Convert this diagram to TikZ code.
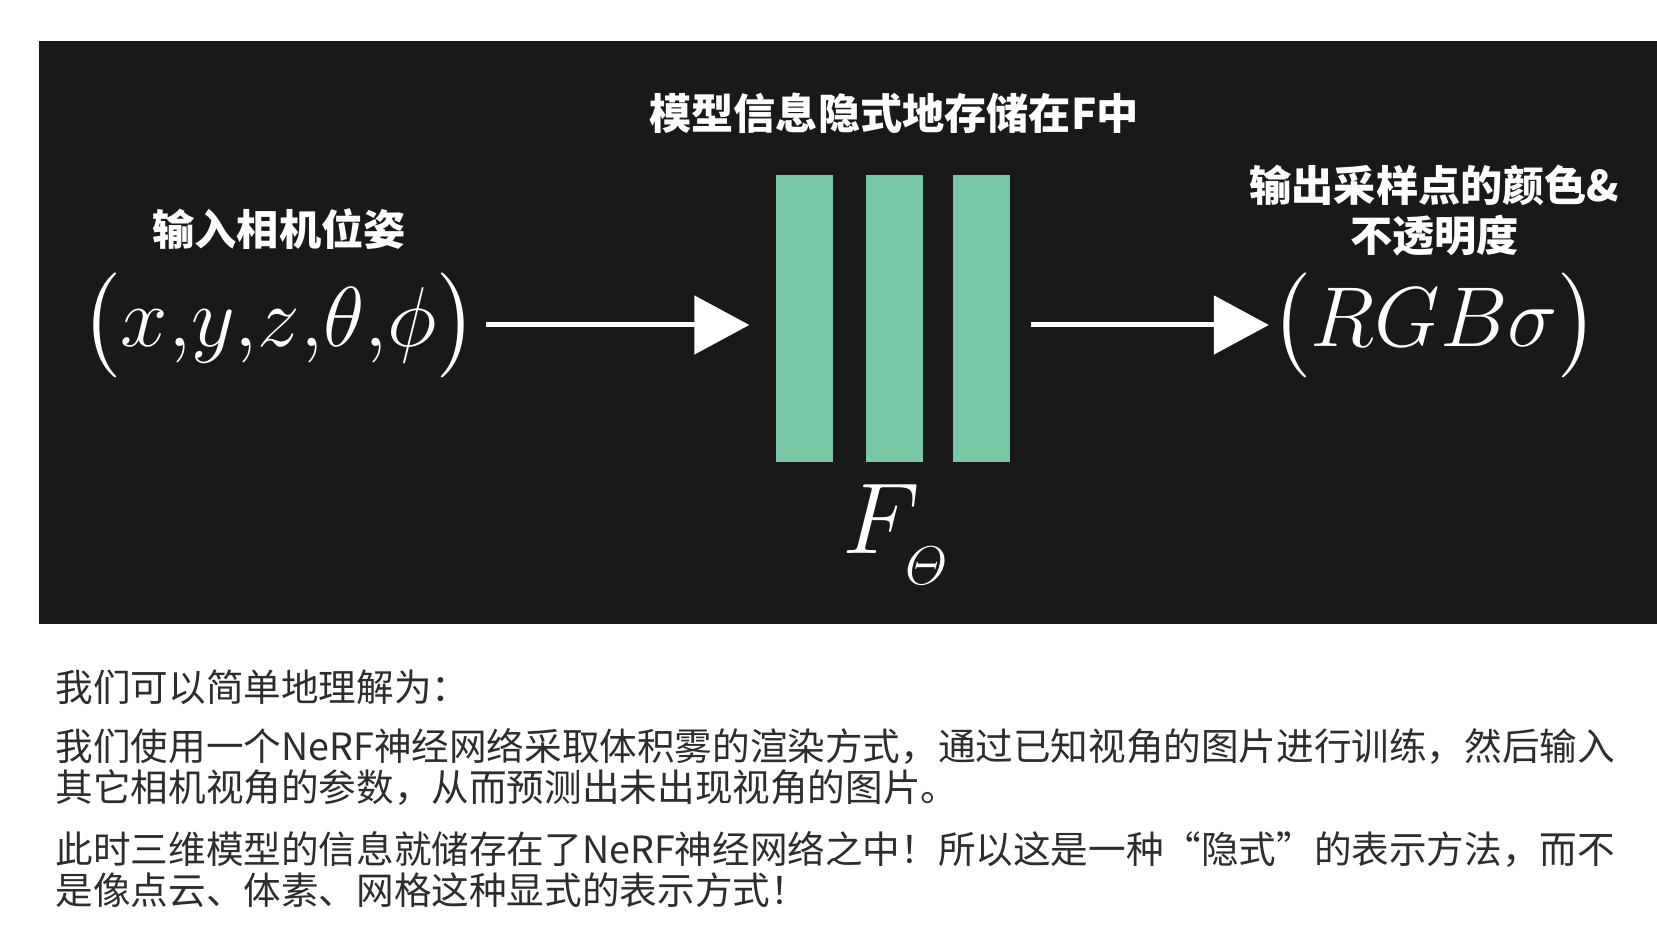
\RequirePackage{fix-cm}
\documentclass[tikz,border=0pt]{standalone}
\usepackage{fontspec}
\usepackage{amsmath}
\usetikzlibrary{arrows.meta, positioning}
\newfontfamily\cjk{Noto Sans CJK SC}
\definecolor{PanelBlack}{RGB}{25, 25, 25}
\definecolor{LayerGreen}{RGB}{120, 200, 168}
\definecolor{NoteGray}{RGB}{45, 45, 45}

\begin{document}
\begin{tikzpicture}[
    layer/.style={fill=LayerGreen, minimum width=0.57cm, minimum height=2.87cm, inner sep=0pt},
    caption/.style={text=white, font=\cjk\bfseries\fontsize{12}{14.2}\selectfont, align=center, inner sep=0pt},
    mathlabel/.style={text=white, font=\fontsize{24.2}{29}\selectfont, inner sep=0pt},
    arr/.style={draw=white, line width=0.05cm, -{Triangle[length=0.55cm, width=0.58cm]}},
    note/.style={text=NoteGray, font=\cjk\fontsize{10.7}{11.4}\selectfont, align=left, anchor=west, inner sep=0pt}
  ]
    \useasboundingbox (0,0) rectangle (16.57,9.27);

    % Panel (fondo)
    \fill[PanelBlack] (0.39,3.03) rectangle (16.57,8.86);

    % Red F (centro)
    \node[layer] (b1) at (8.045, 6.085) {};
    \node[layer] (b2) at (8.94, 6.085) {};
    \node[layer] (b3) at (9.81, 6.085) {};
    \node[caption, above=0.40cm of b2] (title) {模型信息隐式地存储在F中};
    \node[text=white, font=\fontsize{28.7}{34}\selectfont, inner sep=0pt, below=0.21cm of b2, xshift=0.02cm] (net)
      {$F_{\lower0.16em\hbox{\fontsize{15.5}{16}\selectfont$\varTheta$}}$};

    % Entrada (izq)
    \node[mathlabel] (pose) at (2.79, 6.02) {$\bigl(x{,}y{,}z{,}\theta{,}\phi\bigr)$};
    \node[caption, above=0.22cm of pose] (poselabel) {输入相机位姿};

    % Salida (der)
    \node[mathlabel] (rgb) at (14.345, 6.02) {$\bigl(RGB\sigma\bigr)$};
    \node[caption, above=0.15cm of rgb] (rgblabel) {输出采样点的颜色\&\\不透明度};

    % Flechas
    \draw[arr, shorten <=0.08cm, shorten >=0.26cm] (pose.east) -- (pose.east -| b1.west);
    \draw[arr, shorten <=0.21cm, shorten >=0.01cm] (pose.east -| b3.east) -- (pose.east -| rgb.west);

    % Texto (abajo)
    \node[note] (p1) at (0.55, 2.40) {我们可以简单地理解为：};
    \node[note] (p2) at (0.55, 1.60) {我们使用一个NeRF神经网络采取体积雾的渲染方式，通过已知视角的图片进行训练，然后输入\\其它相机视角的参数，从而预测出未出现视角的图片。};
    \node[note] (p3) at (0.55, 0.575) {此时三维模型的信息就储存在了NeRF神经网络之中！所以这是一种“隐式”的表示方法，而不\\是像点云、体素、网格这种显式的表示方式！};
  \end{tikzpicture}
\end{document}
